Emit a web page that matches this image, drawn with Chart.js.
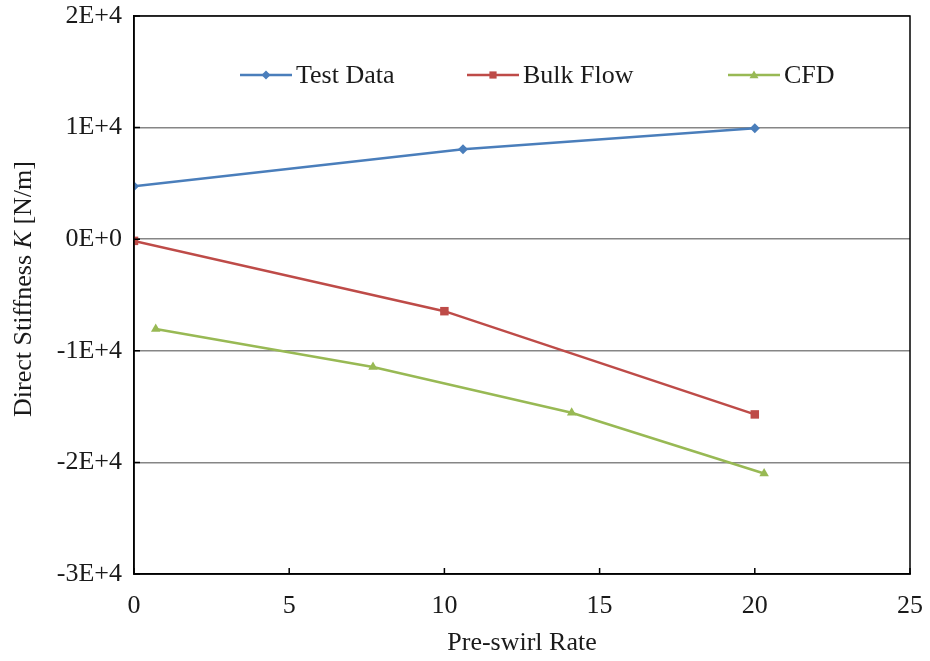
<!DOCTYPE html>
<html>
<head>
<meta charset="utf-8">
<script src="https://cdn.jsdelivr.net/npm/chart.js@4"></script>
<style>
  html, body { margin: 0; padding: 0; background: #fff; }
  #wrap { width: 930px; height: 661px; }
</style>
</head>
<body>
<div id="wrap"><canvas id="myChart" width="930" height="661"></canvas></div>
<script>
// values
const testX = [0, 10.6, 20];
const testK = [4750, 8050, 9950];
const bulkX = [0, 10, 20];
const bulkK = [-150, -6450, -15700];
const cfdX = [0.7, 7.7, 14.1, 20.3];
const cfdK = [-8050, -11450, -15550, -21000];

const seriesNames = ['Test Data', 'Bulk Flow', 'CFD'];
const colors = ['#4a7ebb', '#be4b48', '#98b954'];
const markers = ['rectRot', 'rect', 'triangle'];
const markerSizes = [5, 6, 5.5];

const toPts = (xs, ys) => xs.map((x, i) => ({ x: x, y: ys[i] }));

const fontFamily = '"Liberation Serif", "Times New Roman", serif';
const font = { family: fontFamily, size: 26 };
const textColor = '#1a1a1a';

function drawMarker(g, style, x, y, r, color) {
    g.fillStyle = color;
    g.beginPath();
    if (style === 'rectRot') {
        g.moveTo(x, y - r); g.lineTo(x + r, y); g.lineTo(x, y + r); g.lineTo(x - r, y);
    } else if (style === 'rect') {
        g.rect(x - r * 0.8, y - r * 0.8, r * 1.6, r * 1.6);
    } else {
        g.moveTo(x, y - r); g.lineTo(x + r, y + r * 0.7); g.lineTo(x - r, y + r * 0.7);
    }
    g.closePath();
    g.fill();
}

// legend inside the plot, frame box and inner tick marks, y title with italic K
const extras = {
    id: 'extras',
    afterDraw(chart) {
        const { ctx, chartArea: a, scales } = chart;
        ctx.save();
        ctx.strokeStyle = '#000';
        ctx.lineWidth = 1.5;
        ctx.strokeRect(a.left, a.top, a.right - a.left, a.bottom - a.top);
        ctx.beginPath();
        scales.x.ticks.forEach(t => {
            const px = scales.x.getPixelForValue(t.value);
            ctx.moveTo(px, a.bottom); ctx.lineTo(px, a.bottom - 6);
        });
        scales.y.ticks.forEach(t => {
            const py = scales.y.getPixelForValue(t.value);
            ctx.moveTo(a.left, py); ctx.lineTo(a.left + 6, py);
        });
        ctx.stroke();

        // legend
        const starts = [240, 467, 728];
        const ly = 75;
        ctx.font = font.size + 'px ' + fontFamily;
        ctx.textBaseline = 'middle';
        ctx.textAlign = 'left';
        seriesNames.forEach((name, i) => {
            const x0 = starts[i];
            ctx.strokeStyle = colors[i];
            ctx.lineWidth = 2.5;
            ctx.beginPath(); ctx.moveTo(x0, ly); ctx.lineTo(x0 + 52, ly); ctx.stroke();
            drawMarker(ctx, markers[i], x0 + 26, ly, 4.5, colors[i]);
            ctx.fillStyle = textColor;
            ctx.fillText(name, x0 + 56, ly + 1);
        });

        // y title
        const parts = [['Direct Stiffness ', ''], ['K', 'italic '], [' [N/m]', '']];
        let total = 0;
        parts.forEach(p => { ctx.font = p[1] + font.size + 'px ' + fontFamily; total += ctx.measureText(p[0]).width; });
        ctx.translate(24, 289);
        ctx.rotate(-Math.PI / 2);
        let x = -total / 2;
        ctx.fillStyle = textColor;
        parts.forEach(p => {
            ctx.font = p[1] + font.size + 'px ' + fontFamily;
            ctx.fillText(p[0], x, 0);
            x += ctx.measureText(p[0]).width;
        });
        ctx.restore();
    }
};

const datasets = [toPts(testX, testK), toPts(bulkX, bulkK), toPts(cfdX, cfdK)].map((d, i) => ({
    label: seriesNames[i],
    data: d,
    borderColor: colors[i],
    backgroundColor: colors[i],
    borderWidth: 2.5,
    pointStyle: markers[i],
    pointRadius: markerSizes[i],
    pointBorderWidth: 0,
    showLine: true,
    tension: 0
}));

const ctx = document.getElementById('myChart').getContext('2d');
const myChart = new Chart(ctx, {
    type: 'scatter',
    data: { datasets: datasets },
    plugins: [extras],
    options: {
        responsive: false,
        animation: false,
        layout: { padding: { top: 16, right: 20, left: 0, bottom: 0 } },
        plugins: {
            tooltip: { enabled: false },
            legend: { display: false }
        },
        scales: {
            x: {
                type: 'linear',
                min: 0,
                max: 25,
                afterFit: (s) => { s.height = 87; s.paddingLeft = 0; s.paddingRight = 0; },
                ticks: { stepSize: 5, font: font, color: textColor, padding: 17 },
                grid: { display: false, drawTicks: false },
                border: { color: '#000', width: 1.5 },
                title: { display: true, text: 'Pre-swirl Rate', font: font, color: textColor, padding: { top: 0, bottom: 2 } }
            },
            y: {
                min: -30000,
                max: 20000,
                afterFit: (s) => { s.width = 134; s.paddingTop = 0; s.paddingBottom = 0; },
                ticks: {
                    stepSize: 10000,
                    font: font,
                    color: textColor,
                    padding: 12,
                    callback: (v) => v === 0 ? '0E+0' : (v / 10000) + 'E+4'
                },
                grid: { color: '#868686', lineWidth: 1.5, drawTicks: false },
                border: { color: '#000', width: 1.5 }
            }
        }
    }
});
</script>
</body>
</html>
